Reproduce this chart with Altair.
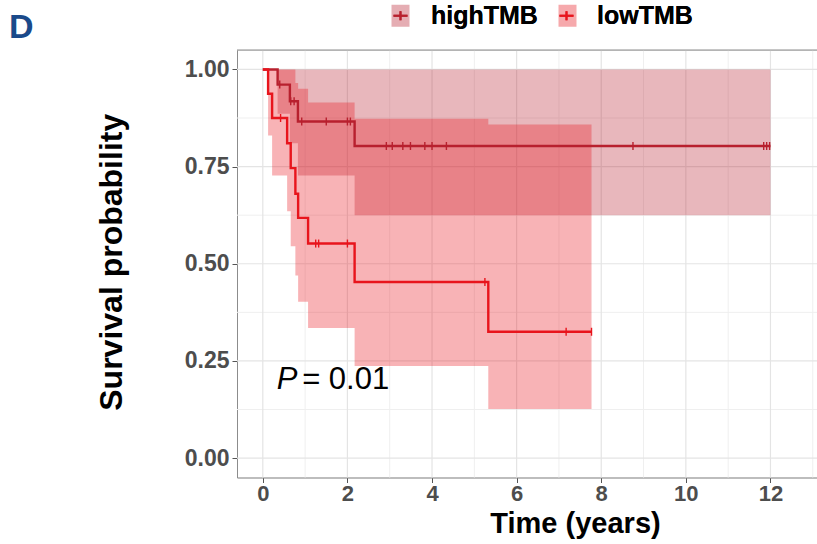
import altair as alt
import pandas as pd

# ---------------- data ----------------
groups = ["highTMB", "lowTMB"]
line_colors = ["#B8202E", "#E8141C"]

high_time = [0.0, 0.35, 0.64, 0.83, 2.17, 12.0]
high_surv = [1.0, 0.961, 0.918, 0.866, 0.803, 0.803]
high_lower = [1.0, 0.886, 0.81, 0.727, 0.625, 0.625]
high_upper = [1.0, 1.0, 1.0, 1.0, 1.0, 1.0]
high_cens = [0.40, 0.66, 0.74, 0.92, 1.50, 2.00, 2.07, 2.92, 3.06, 3.31,
             3.49, 3.83, 4.00, 4.34, 8.75, 11.84, 11.91, 11.98]

low_time = [0.0, 0.125, 0.22, 0.575, 0.66, 0.77, 0.835, 1.07, 2.17, 5.33, 7.77]
low_surv = [1.0, 0.9375, 0.875, 0.81, 0.746, 0.68, 0.618, 0.552, 0.453, 0.325, 0.325]
low_lower = [1.0, 0.83, 0.727, 0.635, 0.545, 0.47, 0.402, 0.335, 0.237, 0.126, 0.126]
low_upper = [1.0, 1.0, 1.0, 1.0, 1.0, 0.965, 0.95, 0.915, 0.873, 0.858, 0.858]
low_cens = [0.42, 1.25, 1.32, 2.00, 5.25, 7.17, 7.77]

x_ticks = [0, 2, 4, 6, 8, 10, 12]
x_grid_minor = [1, 3, 5, 7, 9, 11, 13]
y_ticks = [0.0, 0.25, 0.5, 0.75, 1.0]
y_grid_minor = [0.125, 0.375, 0.625, 0.875]

p_label_parts = ["P", "= 0.01"]
p_label_time = [0.33, 0.93]
p_label_surv = [0.20, 0.20]

panel_letter = "D"

# ---------------- tables ----------------
def step_rows(name, t, s, lo, up):
    return [dict(time=a, surv=b, lower=c, upper=d, grp=name)
            for a, b, c, d in zip(t, s, lo, up)]

def cens_rows(name, t, s, cens):
    rows = []
    for c in cens:
        idx = max(i for i, tt in enumerate(t) if tt <= c)
        rows.append(dict(time=c, surv=s[idx], grp=name))
    return rows

curves = pd.DataFrame(step_rows("highTMB", high_time, high_surv, high_lower, high_upper)
                      + step_rows("lowTMB", low_time, low_surv, low_lower, low_upper))
band_df = curves.rename(columns={"grp": "band_group"})
line_df = curves.rename(columns={"grp": "line_group"})
cens_df = pd.DataFrame(cens_rows("highTMB", high_time, high_surv, high_cens)
                       + cens_rows("lowTMB", low_time, low_surv, low_cens)).rename(columns={"grp": "line_group"})
p_df = pd.DataFrame({"txt": p_label_parts, "time": p_label_time, "surv": p_label_surv})

FONT = "Liberation Sans"
W, H = 580, 427.5

x_scale = alt.Scale(domain=[-0.61, 13.1], nice=False, zero=False)
y_scale = alt.Scale(domain=[-0.05, 1.05], nice=False, zero=False)

x_axis = alt.Axis(values=x_ticks, grid=False, title="Time (years)", titleFont=FONT,
                  titleFontSize=29, titleFontWeight="bold", titleColor="black",
                  titleX=338, titleY=55, titleAlign="center", titleBaseline="alphabetic",
                  labelFont=FONT, labelFontSize=22, labelFontWeight="bold",
                  labelColor="#4D4D4D", labelPadding=1, tickSize=5, tickColor="#555555",
                  domainColor="#8C8C8C", labelFlush=False)
y_axis = alt.Axis(values=y_ticks, format=".2f", grid=False, title="Survival probability",
                  titleFont=FONT, titleFontSize=32, titleFontWeight="bold", titleColor="black",
                  titleX=-126, titleY=H / 2 - 2, titleAngle=270, titleAlign="center",
                  titleBaseline="middle", labelFont=FONT, labelFontSize=23,
                  labelFontWeight="bold", labelColor="#4D4D4D", labelPadding=3, tickSize=5,
                  tickColor="#555555", domainColor="#8C8C8C", labelFlush=False)

X = alt.X("time:Q", scale=x_scale, axis=x_axis)
Y = alt.Y("surv:Q", scale=y_scale, axis=y_axis)

# grid lines
vgrid_major = alt.Chart(pd.DataFrame({"time": x_ticks})).mark_rule(color="#E4E4E4", strokeWidth=1.2).encode(x=X)
vgrid_minor = alt.Chart(pd.DataFrame({"time": x_grid_minor})).mark_rule(color="#EFEFEF", strokeWidth=1).encode(x=X)
hgrid_major = alt.Chart(pd.DataFrame({"surv": y_ticks})).mark_rule(color="#E4E4E4", strokeWidth=1.2).encode(y=Y)
hgrid_minor = alt.Chart(pd.DataFrame({"surv": y_grid_minor})).mark_rule(color="#EFEFEF", strokeWidth=1).encode(y=Y)

fill_legend = alt.Legend(orient="none", legendX=151, legendY=-47, direction="horizontal",
                         title=None, padding=0, symbolType="M-0.9,-1.1H0.9V1.1H-0.9Z",
                         symbolSize=400, symbolOpacity=0.36, symbolStrokeColor="transparent",
                         symbolStrokeWidth=2, labelFont=FONT, labelFontSize=25,
                         labelFontWeight="bold", labelColor="transparent", labelOffset=18,
                         columnPadding=16)
stroke_legend = alt.Legend(orient="none", legendX=151, legendY=-47, direction="horizontal",
                           title=None, padding=0, symbolType="M-0.7,0H0.7M0,-0.45V0.45",
                           symbolSize=400, symbolStrokeWidth=2, symbolFillColor="transparent",
                           labelFont=FONT, labelFontSize=25, labelFontWeight="bold",
                           labelColor="black", labelOffset=18, columnPadding=16)

bands = alt.Chart(band_df).mark_area(interpolate="step-after", opacity=0.32).encode(
    x=X,
    y=alt.Y("lower:Q", scale=y_scale, axis=y_axis),
    y2="upper:Q",
    fill=alt.Fill("band_group:N", scale=alt.Scale(domain=groups, range=line_colors), legend=fill_legend),
)

lines = alt.Chart(line_df).mark_line(interpolate="step-after", strokeWidth=2.4).encode(
    x=X, y=Y,
    stroke=alt.Stroke("line_group:N", scale=alt.Scale(domain=groups, range=line_colors), legend=stroke_legend),
)

censors = alt.Chart(cens_df).mark_point(shape="M0,-1V1", size=64, filled=False, strokeWidth=1.4, opacity=1).encode(
    x=X, y=Y,
    stroke=alt.Stroke("line_group:N", scale=alt.Scale(domain=groups, range=line_colors), legend=stroke_legend),
)

p_italic = alt.Chart(p_df.iloc[[0]]).mark_text(font=FONT, fontSize=31, fontStyle="italic",
                                               align="left", baseline="middle", color="black").encode(
    x=X, y=Y, text="txt:N")
p_rest = alt.Chart(p_df.iloc[[1]]).mark_text(font=FONT, fontSize=31, align="left",
                                             baseline="middle", color="black").encode(
    x=X, y=Y, text="txt:N")

top_border = alt.Chart(pd.DataFrame({"a": [0]})).mark_rule(color="#8C8C8C", strokeWidth=1).encode(
    y=alt.value(0), x=alt.value(0), x2=alt.value(W))

letter = alt.Chart(pd.DataFrame({"txt": [panel_letter]})).mark_text(
    font=FONT, fontSize=34, fontWeight="bold", color="#1A4A8A", align="left",
    baseline="alphabetic").encode(x=alt.value(-228), y=alt.value(-12), text="txt:N")

chart = alt.layer(
    vgrid_minor, hgrid_minor, vgrid_major, hgrid_major,
    bands, lines, censors, p_italic, p_rest, top_border, letter,
).resolve_legend(fill="independent", stroke="independent").properties(
    width=W, height=H,
    padding={"left": 237, "top": 50, "right": 0, "bottom": 66.5},
    autosize=alt.AutoSizeParams(type="none"),
).configure_view(stroke=None).configure(background="white")

chart.save("out.html", embed_options={"renderer": "svg", "actions": False})
